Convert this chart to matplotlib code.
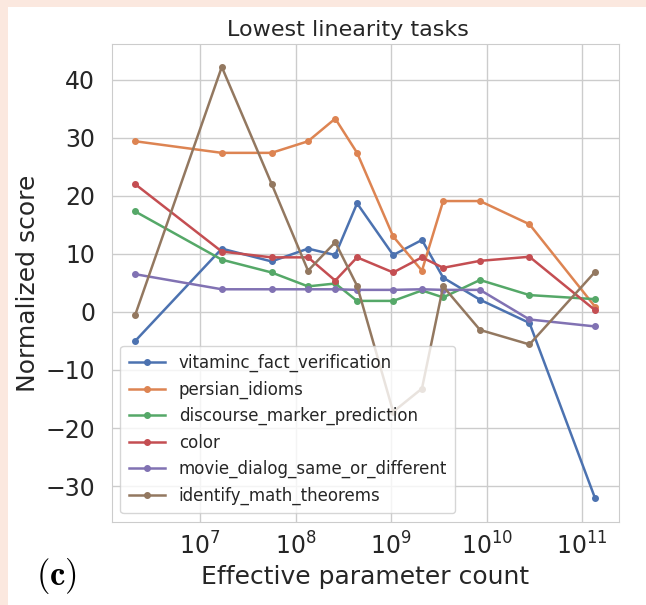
import matplotlib
matplotlib.use("Agg")
import matplotlib.pyplot as plt
from matplotlib.patches import Rectangle

# effective parameter counts (x axis)
params = [2.1e6, 1.69e7, 5.6e7, 1.35e8, 2.6e8, 4.4e8, 1.05e9, 2.1e9, 3.5e9, 8.5e9, 2.8e10, 1.36e11]

vitaminc = [-5.0, 10.9, 8.7, 10.9, 9.8, 18.7, 9.8, 12.4, 5.9, 2.1, -1.9, -32.1]
persian = [29.4, 27.4, 27.4, 29.4, 33.3, 27.4, 13.0, 7.1, 19.1, 19.1, 15.1, 0.9]
discourse = [17.3, 9.0, 6.8, 4.4, 4.9, 1.9, 1.9, 3.7, 2.5, 5.5, 2.9, 2.2]
color = [22.0, 10.4, 9.4, 9.4, 5.4, 9.4, 6.8, 9.4, 7.6, 8.8, 9.5, 0.3]
movie = [6.5, 3.9, 3.9, 3.9, 3.9, 3.8, 3.8, 3.9, 3.8, 3.8, -1.3, -2.5]
theorems = [-0.5, 42.2, 22.1, 7.1, 12.0, 4.5, -17.2, -13.2, 4.4, -3.1, -5.6, 6.9]

labels = ["vitaminc_fact_verification", "persian_idioms", "discourse_marker_prediction",
          "color", "movie_dialog_same_or_different", "identify_math_theorems"]
series = [vitaminc, persian, discourse, color, movie, theorems]
colors = ["#4C72B0", "#DD8452", "#55A868", "#C44E52", "#8172B3", "#937860"]

plt.rcParams["mathtext.fontset"] = "cm"
plt.rcParams["font.family"] = ["DejaVu Sans"]

fig = plt.figure(figsize=(6.46, 6.05), dpi=100)
fig.patch.set_facecolor("#fbe8df")
# white page area, pink strip left and top
fig.patches.append(Rectangle((8 / 646, 0), 1, 1 - 7 / 605, transform=fig.transFigure,
                             facecolor="white", edgecolor="none", zorder=-1))

ax = fig.add_axes([112 / 646, 1 - 521.5 / 605, (619 - 112) / 646, (521.5 - 44.3) / 605])
for ys, lab, c in zip(series, labels, colors):
    ax.plot(params, ys, "-o", color=c, label=lab, lw=1.8, ms=4)

ax.set_xscale("log")
ax.set_xlim(1.2e6, 2.42e11)
ax.set_ylim(-36.1, 46.1)
ax.set_yticks([-30, -20, -10, 0, 10, 20, 30, 40])
ax.set_xticks([1e7, 1e8, 1e9, 1e10, 1e11])
ax.minorticks_off()
ax.grid(True, color="#cccccc", lw=1)
ax.set_axisbelow(True)
for s in ax.spines.values():
    s.set_color("#cccccc")
ax.tick_params(length=0, labelsize=17, labelcolor="#262626")
ax.tick_params(axis="x", pad=8)
ax.tick_params(axis="y", pad=12)

ax.set_title("Lowest linearity tasks", fontsize=16, color="#262626", pad=6, x=0.465)
ax.set_xlabel("Effective parameter count", fontsize=18, color="#262626", labelpad=4)
ax.set_ylabel("Normalized score", fontsize=18, color="#262626", labelpad=4)

leg = ax.legend(loc="lower left", fontsize=12, handlelength=2.2, labelspacing=0.5,
                borderpad=0.5, framealpha=0.8, edgecolor="#cccccc")
for t in leg.get_texts():
    t.set_color("#262626")

fig.text(57 / 646, 1 - 576 / 605, r"$\mathbf{(c)}$", fontsize=25, ha="center", va="center")

fig.savefig("out.png", dpi=100, facecolor=fig.get_facecolor())
